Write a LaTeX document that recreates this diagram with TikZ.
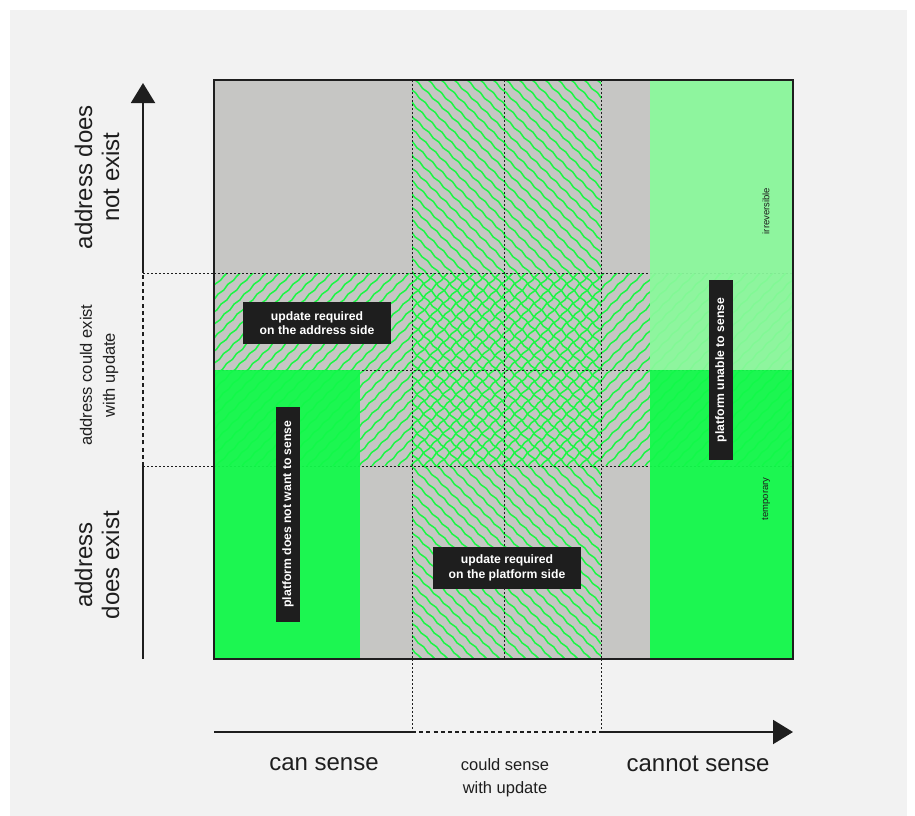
\documentclass[tikz,border=0pt]{standalone}
\usepackage{fontspec}
\setmainfont{Liberation Sans}
\usetikzlibrary{arrows.meta,calc,decorations.pathmorphing}
\definecolor{panel}{HTML}{F2F2F2}
\definecolor{cellgray}{HTML}{C6C6C4}
\definecolor{hatchgreen}{HTML}{1CF645}
\definecolor{brightgreen}{HTML}{12F94A}
\definecolor{palegreen}{HTML}{8AF99C}
\definecolor{ink}{HTML}{1E1E1E}
\tikzset{
  hatch/.style={hatchgreen,line width=1.5pt,decorate,decoration={snake,amplitude=.6pt,segment length=14pt}},
  grid/.style={ink,line width=.7pt,dash pattern=on 2pt off 2pt},
  axis/.style={ink,line width=2pt},
  axisdash/.style={ink,line width=2.6pt},
  tag/.style={fill=ink,text=white,font=\fontsize{12.2}{14.5}\selectfont\bfseries,align=center,inner sep=0pt},
  biglabel/.style={ink,font=\fontsize{24}{27}\selectfont,align=center},
  smalllabel/.style={ink,font=\fontsize{16.5}{23}\selectfont,align=center},
  tinylabel/.style={ink,font=\fontsize{9.5}{11}\selectfont},
}

\begin{document}
\begin{tikzpicture}[x=1pt,y=-1pt]

\pgfmathsetmacro{\xl}{214}
\pgfmathsetmacro{\xa}{360}
\pgfmathsetmacro{\xb}{412}
\pgfmathsetmacro{\xc}{504}
\pgfmathsetmacro{\xd}{601}
\pgfmathsetmacro{\xe}{650}
\pgfmathsetmacro{\xr}{793}
\pgfmathsetmacro{\yt}{80}
\pgfmathsetmacro{\ya}{273}
\pgfmathsetmacro{\yb}{370}
\pgfmathsetmacro{\yc}{466}
\pgfmathsetmacro{\yd}{659}

  \useasboundingbox (0,0) rectangle (915,816);
  \fill[white] (0,0) rectangle (915,816);
  \fill[panel] (10,10) rectangle (907,816);

  % cells
  \fill[cellgray] (\xl,\yt) rectangle (\xr,\yd);
  \begin{scope}
    \clip (\xl,\ya) rectangle (\xr,\yc);
    \foreach \i in {0,...,62}
      \draw[hatch] ({21+13*\i},\yc) -- ++(193,-193);
  \end{scope}
  \begin{scope}
    \clip (\xb,\yt) rectangle (\xd,\yd);
    \foreach \i in {0,...,60}
      \draw[hatch] ({-170+13*\i},\yt) -- ++(579,579);
  \end{scope}

  % grid
  \draw[grid] (\xl,\ya) -- (\xr,\ya);
  \draw[grid] (\xl,\yb) -- (\xr,\yb);
  \draw[grid] (\xl,\yc) -- (\xr,\yc);
  \draw[grid] (\xb,\yt) -- (\xb,\yd);
  \draw[grid] (\xc,\yt) -- (\xc,\yd);
  \draw[grid] (\xd,\yt) -- (\xd,\yd);

  \fill[brightgreen,opacity=.94] (\xl,\yb) rectangle (\xa,\yd);
  \fill[brightgreen,opacity=.94] (\xe,\yb) rectangle (\xr,\yd);
  \fill[palegreen,opacity=.93] (\xe,\yt) rectangle (\xr,\yb);
  \draw[ink,line width=2.5pt] (\xl,\yt) rectangle (\xr,\yd);

  % axes
  \coordinate (ybot) at (143,\yd);
  \coordinate (ylo) at (143,\yc);
  \coordinate (yhi) at (143,\ya);
  \coordinate (ytop) at (143,83);
  \coordinate (xleft) at (\xl,732);
  \coordinate (xlo) at (\xb,732);
  \coordinate (xhi) at (\xd,732);
  \coordinate (xright) at (\xr,732);
  \draw[grid] (yhi) -- (\xl,\ya);
  \draw[grid] (ylo) -- (\xl,\yc);
  \draw[grid] (\xb,\yd) -- (xlo);
  \draw[grid] (\xd,\yd) -- (xhi);
  \draw[axis] (ybot) -- (ylo);
  \foreach \t in {0,...,26}
    \draw[axisdash] ($(ylo)+(0,-7.2*\t)$) -- ++(0,-4);
  \draw[axis,-{Triangle[length=20pt,width=24pt]}] (yhi) -- (ytop);
  \draw[axis] (xleft) -- (xlo);
  \foreach \t in {0,...,26}
    \draw[axisdash] ($(xlo)+(7.2*\t,0)$) -- ++(4,0);
  \draw[axis,-{Triangle[length=20pt,width=24pt]}] (xhi) -- (xright);

  % labels
  \node[biglabel,rotate=90] (notexist) at (97,177) {address does\\not exist};
  \node[smalllabel,rotate=90] (couldexist) at (99,375) {address could exist\\with update};
  \node[biglabel,rotate=90] (doesexist) at (97,565) {address\\does exist};
  \node[biglabel] (cansense) at (324,764) {can sense};
  \node[smalllabel] (couldsense) at (505,778) {could sense\\with update};
  \node[biglabel] (cannotsense) at (698,764) {cannot sense};
  \node[tinylabel,rotate=90] (irreversible) at (766,211) {irreversible};
  \node[tinylabel,rotate=90] (temporary) at (766,499) {temporary};

  \node[tag,minimum width=148pt,minimum height=42pt] (addrside) at (317,323) {update required\\on the address side};
  \node[tag,minimum width=148pt,minimum height=42pt] (platside) at (507,568) {update required\\on the platform side};
  \node[tag,rotate=90,minimum width=180pt,minimum height=24pt] (unable) at (721,370) {platform unable to sense};
  \node[tag,rotate=90,minimum width=215pt,minimum height=24pt] (notwant) at (288,514) {platform does not want to sense};

\end{tikzpicture}
\end{document}
